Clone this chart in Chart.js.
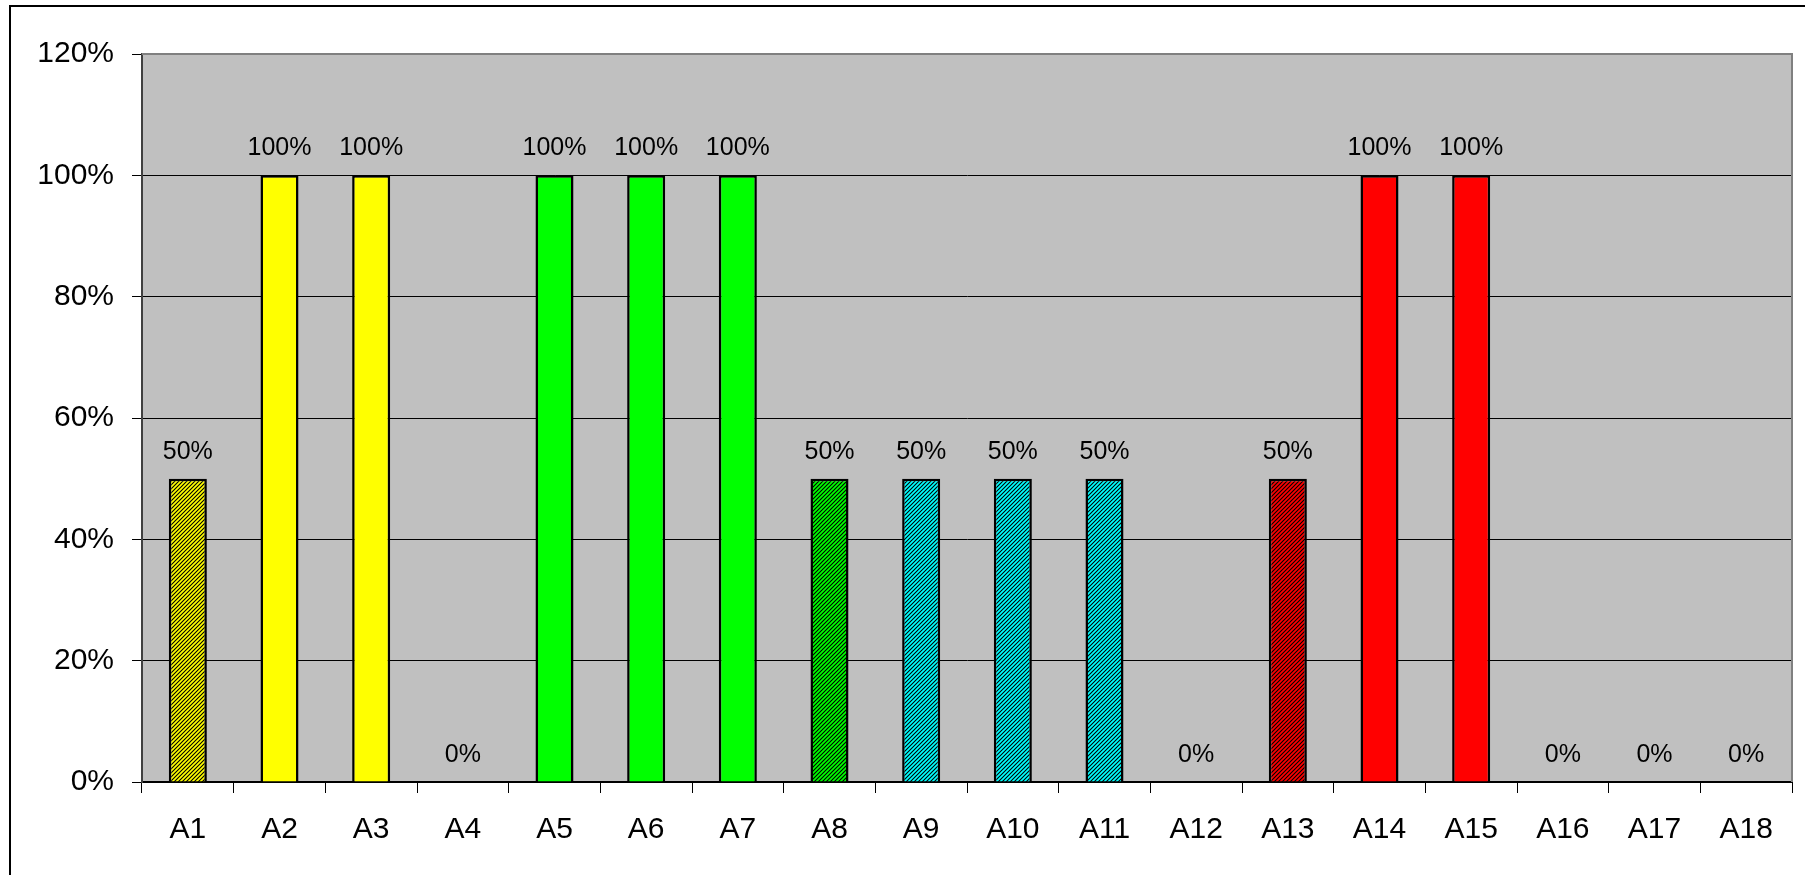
<!DOCTYPE html>
<html>
<head>
<meta charset="utf-8">
<script src="https://cdn.jsdelivr.net/npm/chart.js@4/dist/chart.umd.min.js"></script>
<style>
  html, body { margin: 0; padding: 0; background: #fff; }
  canvas { display: block; }
</style>
</head>
<body>
<canvas id="chart" width="1805" height="875"></canvas>
<script>
const categories = ['A1', 'A2', 'A3', 'A4', 'A5', 'A6', 'A7', 'A8', 'A9',
  'A10', 'A11', 'A12', 'A13', 'A14', 'A15', 'A16', 'A17', 'A18'];
const values = [50, 100, 100, 0, 100, 100, 100, 50, 50, 50, 50, 0, 50, 100, 100, 0, 0, 0];
const yTicks = [0, 20, 40, 60, 80, 100, 120];

// styling per bar
const barColors = ['#ffff00', '#ffff00', '#ffff00', '#ffff00', '#00ff00', '#00ff00', '#00ff00',
  '#00ff00', '#00ffff', '#00ffff', '#00ffff', '#00ffff', '#ff0000', '#ff0000', '#ff0000',
  '#ff0000', '#ff0000', '#ff0000'];
const hatched = [true, false, false, false, false, false, false, true, true, true, true,
  false, true, false, false, false, false, false];

const FONT = "'Liberation Sans', Arial, sans-serif";

function hatch(color) {
  const c = document.createElement('canvas');
  c.width = 4; c.height = 4;
  const g = c.getContext('2d');
  g.fillStyle = color;
  g.fillRect(0, 0, 4, 4);
  g.strokeStyle = '#000';
  g.lineWidth = 1.1;
  g.beginPath();
  g.moveTo(-1, 5); g.lineTo(5, -1);
  g.moveTo(-1, 1); g.lineTo(1, -1);
  g.moveTo(3, 5); g.lineTo(5, 3);
  g.stroke();
  return g.createPattern(c, 'repeat');
}

const fills = barColors.map((c, i) => hatched[i] ? hatch(c) : c);

const plotBg = {
  id: 'plotBg',
  beforeDraw(chart) {
    const { ctx, chartArea: a } = chart;
    ctx.save();
    ctx.fillStyle = '#c0c0c0';
    ctx.fillRect(a.left, a.top, a.right - a.left, a.bottom - a.top);
    ctx.restore();
  },
  afterDraw(chart) {
    const { ctx, chartArea: a } = chart;
    ctx.save();
    // plot area outline (top, right)
    ctx.strokeStyle = '#808080';
    ctx.lineWidth = 2;
    ctx.beginPath();
    ctx.moveTo(a.left, a.top);
    ctx.lineTo(a.right, a.top);
    ctx.lineTo(a.right, a.bottom);
    ctx.stroke();
    // outer frame
    ctx.strokeStyle = '#000';
    ctx.lineWidth = 2;
    ctx.strokeRect(10, 6, 2000, 2000);
    ctx.restore();
  }
};

const valueLabels = {
  id: 'valueLabels',
  afterDatasetsDraw(chart) {
    const { ctx } = chart;
    const meta = chart.getDatasetMeta(0);
    ctx.save();
    ctx.font = '25px ' + FONT;
    ctx.fillStyle = '#000';
    ctx.textAlign = 'center';
    ctx.textBaseline = 'middle';
    meta.data.forEach((bar, i) => {
      ctx.fillText(values[i] + '%', bar.x, bar.y - 27);
    });
    ctx.restore();
  }
};

new Chart(document.getElementById('chart'), {
  type: 'bar',
  data: {
    labels: categories,
    datasets: [{
      data: values,
      backgroundColor: fills,
      borderColor: '#000',
      borderWidth: 2.5,
      barPercentage: 0.415,
      categoryPercentage: 1
    }]
  },
  options: {
    responsive: false,
    animation: false,
    layout: { padding: { left: 0, top: 54, right: 13, bottom: 0 } },
    plugins: { legend: { display: false }, tooltip: { enabled: false } },
    scales: {
      x: {
        grid: {
          offset: true,
          drawOnChartArea: false,
          drawTicks: true,
          tickLength: 11,
          color: '#000',
          lineWidth: 1
        },
        border: { color: '#000', width: 2 },
        ticks: {
          font: { family: FONT, size: 30 },
          color: '#000',
          padding: 19,
          maxRotation: 0,
          autoSkip: false
        },
        afterFit(scale) { scale.height = 93; }
      },
      y: {
        min: 0,
        max: 120,
        afterBuildTicks(scale) { scale.ticks = yTicks.map(v => ({ value: v })); },
        grid: {
          color: ctx => ctx.index === yTicks.length - 1 ? '#808080' : '#000',
          lineWidth: 1,
          tickLength: 10,
          tickColor: '#000'
        },
        border: { color: '#404040', width: 2 },
        ticks: {
          font: { family: FONT, size: 30 },
          color: '#000',
          padding: 18,
          callback: v => v + '%'
        },
        afterFit(scale) { scale.width = 142; }
      }
    }
  },
  plugins: [plotBg, valueLabels]
});
</script>
</body>
</html>
